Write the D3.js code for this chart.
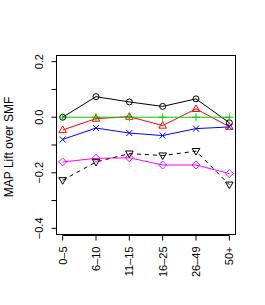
<!DOCTYPE html>
<html>
<head>
<meta charset="utf-8">
<script src="https://cdn.jsdelivr.net/npm/d3@7"></script>
<style>
  body { margin: 0; background: #fff; }
  svg { display: block; font-family: "Liberation Sans", Arial, sans-serif; }
</style>
</head>
<body>
<svg id="chart" width="265" height="305"></svg>
<script>
// bins of user activity along x
var groups = ["0\u20135", "6\u201310", "11\u201315", "16\u201325", "26\u201349", "50+"];
var yTicks = [-0.4, -0.3, -0.2, -0.1, 0.0, 0.1, 0.2];

// MAP lift for each method, one array per line
var circleVals   = [0.000, 0.074, 0.055, 0.039, 0.066, -0.020];
var triUpVals    = [-0.046, -0.005, 0.002, -0.030, 0.030, -0.034];
var plusVals     = [0.000, 0.000, 0.000, 0.000, 0.000, 0.000];
var crossVals    = [-0.080, -0.039, -0.057, -0.066, -0.041, -0.035];
var diamondVals  = [-0.161, -0.148, -0.146, -0.172, -0.172, -0.203];
var triDownVals  = [-0.227, -0.161, -0.131, -0.138, -0.122, -0.243];

var series = [
  {vals: circleVals,  color: "#000000", shape: "circle",  dash: null},
  {vals: triUpVals,   color: "#FF0000", shape: "triUp",   dash: null},
  {vals: plusVals,    color: "#00CD00", shape: "plus",    dash: null},
  {vals: crossVals,   color: "#0000FF", shape: "cross",   dash: null},
  {vals: diamondVals, color: "#FF00FF", shape: "diamond", dash: null},
  {vals: triDownVals, color: "#000000", shape: "triDown", dash: "4,4"}
];

var svg = d3.select("#chart");
var mLeft = 56, mRight = 236, mTop = 55, mBottom = 235;

var x = d3.scaleLinear().domain([-0.2, 5.2]).range([mLeft, mRight]);
var y = d3.scaleLinear().domain([-0.424, 0.224]).range([mBottom, mTop]);

// plot box
svg.append("rect")
  .attr("x", mLeft + 0.5).attr("y", mTop + 0.5)
  .attr("width", mRight - mLeft - 1).attr("height", mBottom - mTop - 1)
  .attr("fill", "none").attr("stroke", "#000").attr("stroke-width", 1);

// y axis
var yAxis = svg.append("g").attr("transform", "translate(" + (mLeft + 0.5) + ",0)");
yAxis.append("line")
  .attr("y1", y(0.2)).attr("y2", y(-0.4))
  .attr("stroke", "#000");
yAxis.selectAll(".tk").data(yTicks).enter().append("line")
  .attr("x1", 0).attr("x2", -5)
  .attr("y1", d => y(d)).attr("y2", d => y(d))
  .attr("stroke", "#000");
yAxis.selectAll(".lb").data(yTicks.filter((d, i) => i % 2 == 0)).enter().append("text")
  .attr("transform", d => "translate(-14," + y(d) + ") rotate(-90)")
  .attr("text-anchor", "middle")
  .attr("font-size", "11px")
  .text(d => d3.format(".1f")(d).replace("-", "\u2212"));

// x axis
var xAxis = svg.append("g").attr("transform", "translate(0," + (mBottom + 0.5) + ")");
xAxis.append("line")
  .attr("x1", x(0)).attr("x2", x(5))
  .attr("stroke", "#000");
xAxis.selectAll(".tk").data(groups).enter().append("line")
  .attr("x1", (d, i) => x(i)).attr("x2", (d, i) => x(i))
  .attr("y1", 0).attr("y2", 5)
  .attr("stroke", "#000");
xAxis.selectAll(".lb").data(groups).enter().append("text")
  .attr("transform", (d, i) => "translate(" + (x(i) + 4) + ",11) rotate(-90)")
  .attr("text-anchor", "end")
  .attr("font-size", "11px")
  .text(d => d);

// y title
svg.append("text")
  .attr("transform", "translate(13," + ((mTop + mBottom) / 2 + 2) + ") rotate(-90)")
  .attr("text-anchor", "middle")
  .attr("font-size", "12px")
  .text("MAP Lift over SMF");

// lines
var line = d3.line().x((d, i) => x(i)).y(d => y(d));
var plot = svg.append("g");
series.forEach(function(s) {
  plot.append("path")
    .datum(s.vals)
    .attr("d", line)
    .attr("fill", "none")
    .attr("stroke", s.color)
    .attr("stroke-width", 1)
    .attr("stroke-dasharray", s.dash);
});

// point symbols
function symbolPath(shape) {
  var r = 3;
  if (shape == "circle") return d3.symbol().type(d3.symbolCircle).size(Math.PI * r * r)();
  if (shape == "triUp") return "M0,-4L3.8,2.6L-3.8,2.6Z";
  if (shape == "triDown") return "M0,4L3.8,-2.6L-3.8,-2.6Z";
  if (shape == "plus") return "M-4,0L4,0M0,-4L0,4";
  if (shape == "cross") return "M-3,-3L3,3M-3,3L3,-3";
  if (shape == "diamond") return "M0,-4L4,0L0,4L-4,0Z";
}

series.forEach(function(s) {
  plot.append("g").selectAll("path")
    .data(s.vals).enter().append("path")
    .attr("transform", (d, i) => "translate(" + x(i) + "," + y(d) + ")")
    .attr("d", symbolPath(s.shape))
    .attr("fill", "none")
    .attr("stroke", s.color)
    .attr("stroke-width", 1);
});
</script>
</body>
</html>
